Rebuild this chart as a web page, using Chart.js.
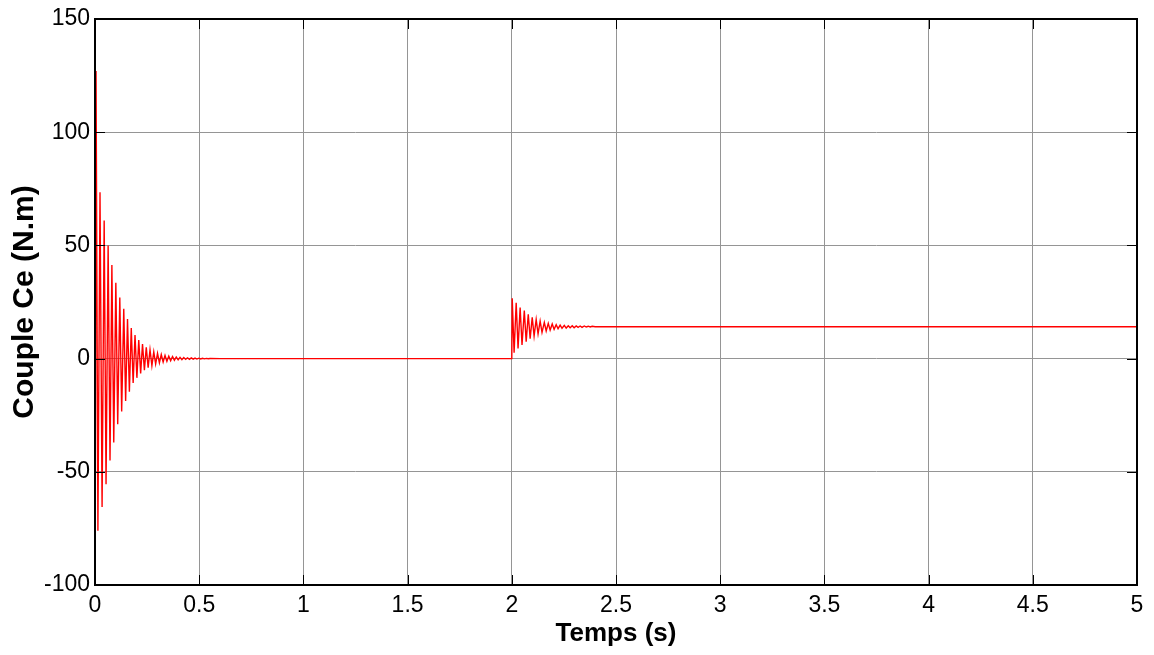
<!DOCTYPE html>
<html>
<head>
<meta charset="utf-8">
<script src="https://cdn.jsdelivr.net/npm/chart.js@4"></script>
<style>
  body { margin: 0; background: #fff; }
  #wrap { width: 1154px; height: 655px; position: relative; }
</style>
</head>
<body>
<div id="wrap"><canvas id="couple"></canvas></div>
<script>
// Startup transient: time (s) and torque (N.m), extrema
const startTime = [0, 0.0015, 0.005, 0.014, 0.024, 0.034, 0.044, 0.053, 0.063, 0.072,
  0.081, 0.090, 0.100, 0.109, 0.119, 0.128, 0.138, 0.147, 0.156, 0.165,
  0.174, 0.183, 0.192, 0.201, 0.210, 0.219, 0.228, 0.237, 0.246, 0.255,
  0.264, 0.273, 0.282, 0.291, 0.300, 0.309, 0.318, 0.327, 0.336, 0.345,
  0.354, 0.363, 0.372, 0.381, 0.390, 0.399, 0.408, 0.417, 0.426, 0.435,
  0.444, 0.453, 0.462, 0.471, 0.480, 0.489, 0.498, 0.507, 0.516, 0.525,
  0.534, 0.543, 0.552, 0.6, 2.0];
const startTorque = [0, -65, 127, -76, 73.5, -65.5, 61, -55.5, 50, -45,
  41.3, -37, 33.5, -29, 27, -23.4, 22, -18.7, 17.5, -14.6,
  13.5, -10.8, 10.4, -8.5, 8.2, -6.6, 6.4, -5.1, 5.0, -4.0,
  3.9, -3.1, 3.0, -2.4, 2.3, -1.9, 1.8, -1.5, 1.4, -1.2,
  1.1, -0.9, 0.9, -0.7, 0.7, -0.55, 0.55, -0.45, 0.45, -0.35,
  0.35, -0.3, 0.3, -0.25, 0.25, -0.2, 0.2, -0.15, 0.15, -0.1,
  0.1, -0.08, 0.05, 0, 0];

// Load step at t = 2 s
const loadTime = [2.002, 2.011, 2.021, 2.030, 2.040, 2.049, 2.060, 2.069, 2.079, 2.088,
  2.098, 2.107, 2.117, 2.126, 2.136, 2.145, 2.156, 2.165, 2.175, 2.184,
  2.194, 2.203, 2.213, 2.222, 2.232, 2.241, 2.252, 2.261, 2.271, 2.280,
  2.290, 2.299, 2.309, 2.318, 2.328, 2.337, 2.348, 2.357, 2.367, 2.376,
  2.386, 2.40, 5.0];
const loadTorque = [26.6, 2.6, 24.7, 4.5, 22.6, 6.0, 21.2, 7.5, 19.6, 8.8,
  18.2, 10.0, 17.3, 10.9, 16.6, 11.6, 16.0, 12.2, 15.6, 12.6,
  15.3, 12.9, 15.0, 13.2, 14.8, 13.4, 14.7, 13.5, 14.5, 13.6,
  14.5, 13.6, 14.4, 13.8, 14.4, 13.8, 14.4, 13.95, 14.3, 13.95,
  14.3, 14.1, 14.1];

const xTicks = [0, 0.5, 1, 1.5, 2, 2.5, 3, 3.5, 4, 4.5, 5];
const yTicks = [-100, -50, 0, 50, 100, 150];

const FONT = "'Liberation Sans', Arial, Helvetica, sans-serif";

const points = [];
startTime.forEach((t, i) => points.push({ x: t, y: startTorque[i] }));
loadTime.forEach((t, i) => points.push({ x: t, y: loadTorque[i] }));

// MATLAB style frame with inward tick marks
const framePlugin = {
  id: 'frame',
  afterDraw(chart) {
    const { ctx, chartArea: a, scales } = chart;
    ctx.save();
    ctx.strokeStyle = '#000';
    ctx.lineWidth = 1;
    ctx.beginPath();
    xTicks.forEach(v => {
      const px = Math.round(scales.x.getPixelForValue(v)) + 0.5;
      ctx.moveTo(px, a.bottom); ctx.lineTo(px, a.bottom - 10);
      ctx.moveTo(px, a.top); ctx.lineTo(px, a.top + 10);
    });
    yTicks.forEach(v => {
      const py = Math.round(scales.y.getPixelForValue(v)) + 0.5;
      ctx.moveTo(a.left, py); ctx.lineTo(a.left + 10, py);
      ctx.moveTo(a.right, py); ctx.lineTo(a.right - 10, py);
    });
    ctx.stroke();
    ctx.lineWidth = 2;
    ctx.strokeRect(a.left, a.top, a.right - a.left, a.bottom - a.top);
    ctx.restore();
  }
};

new Chart(document.getElementById('couple'), {
  type: 'line',
  data: {
    datasets: [{
      data: points,
      borderColor: '#ff0000',
      borderWidth: 1.4,
      pointRadius: 0,
      tension: 0,
      fill: false
    }]
  },
  options: {
    responsive: true,
    maintainAspectRatio: false,
    animation: false,
    layout: { padding: { top: 19, right: 17, left: 0, bottom: 0 } },
    plugins: { legend: { display: false }, tooltip: { enabled: false } },
    scales: {
      x: {
        type: 'linear',
        min: 0,
        max: 5,
        afterFit(scale) { scale.height = 70; },
        afterBuildTicks(scale) { scale.ticks = xTicks.map(v => ({ value: v })); },
        grid: { color: '#959595', lineWidth: 1, drawTicks: false },
        border: { display: false },
        ticks: {
          color: '#000',
          padding: 7,
          maxRotation: 0,
          font: { family: FONT, size: 23 },
          callback: v => String(v)
        },
        title: {
          display: true,
          text: 'Temps (s)',
          color: '#000',
          font: { family: FONT, size: 26, weight: 'bold' },
          padding: { top: 0, bottom: 6 }
        }
      },
      y: {
        min: -100,
        max: 150,
        afterFit(scale) { scale.width = 95; },
        afterBuildTicks(scale) { scale.ticks = yTicks.map(v => ({ value: v })); },
        grid: { color: '#959595', lineWidth: 1, drawTicks: false },
        border: { display: false },
        ticks: {
          color: '#000',
          padding: 5,
          font: { family: FONT, size: 23 },
          callback: v => String(v)
        },
        title: {
          display: true,
          text: 'Couple Ce (N.m)',
          color: '#000',
          font: { family: FONT, size: 30, weight: 'bold' },
          padding: { top: 7, bottom: 0 }
        }
      }
    }
  },
  plugins: [framePlugin]
});
</script>
</body>
</html>
